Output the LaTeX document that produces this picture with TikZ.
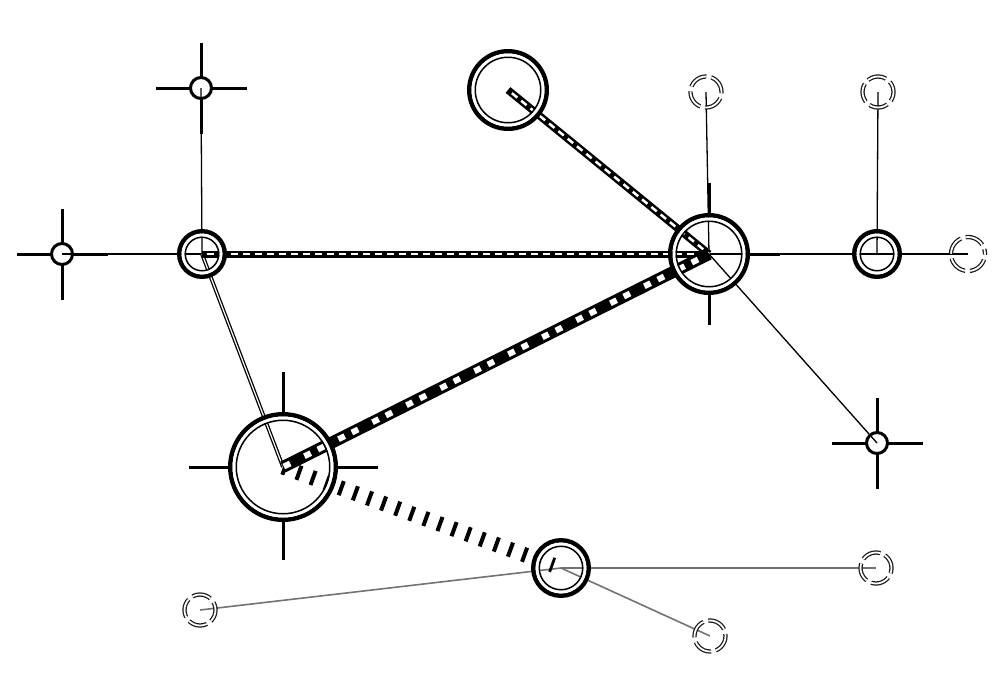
\documentclass[tikz,border=0pt]{standalone}
\usetikzlibrary{calc}
\pgfdeclarelayer{bg}
\pgfsetlayers{bg,main}
\tikzset{
  every node/.style={inner sep=0pt, outer sep=0pt},
  smallnode/.style={circle, draw=black, line width=3pt, minimum size=21pt},
  bignode/.style={circle, draw=none},
  ghostnode/.style={circle, minimum size=31pt, draw=black!90, line width=1.25pt,
    double=white, double distance=1.8pt, dash pattern=on 19pt off 5pt},
  arm/.style={line width=3pt, line cap=butt},
  thinedge/.style={line width=1.3pt},
  greyedge/.style={draw=black!55, line width=1.6pt},
  twinedge/.style={line width=1.3pt, double=white, double distance=1.2pt},
  railedge/.style={line width=7pt,
    postaction={draw=white, line width=2.5pt, dash pattern=on 7pt off 5pt, dash phase=7pt}},
  bigrail/.style={line width=12pt,
    postaction={draw=white, line width=6pt, dash pattern=on 7pt off 8pt on 7pt off 16pt, dash phase=14pt}},
  baredge/.style={line width=15pt, dash pattern=on 4pt off 11pt},
}
\newcommand\dring[2]{%
  \draw[line width=4.5pt] (#1.center) circle[radius=#2pt-2.25pt];
  \draw[white, line width=3pt] (#1.center) circle[radius=#2pt-6pt];
  \draw[line width=1.5pt] (#1.center) circle[radius=#2pt-8.25pt];}
\begin{document}
\begin{tikzpicture}[x=1pt,y=-1pt]
\useasboundingbox (0,0) rectangle (1008,694);
% nodes
\node[smallnode] (A) at (201,88) {};
\node[smallnode] (B) at (62,254) {};
\node[bignode, minimum size=50pt] (C) at (202,254) {};
\node[bignode, minimum size=82pt] (D) at (508,90) {};
\node[bignode, minimum size=82pt] (E) at (709,254) {};
\node[ghostnode] (F) at (706,92) {};
\node[ghostnode, dash phase=8pt] (G) at (878,92) {};
\node[bignode, minimum size=50pt] (H) at (877,254) {};
\node[ghostnode, minimum size=34pt, dash phase=14pt] (I) at (968,254) {};
\node[smallnode] (J) at (877,443) {};
\node[bignode, minimum size=110pt] (K) at (283,467) {};
\node[bignode, minimum size=60pt] (L) at (561,568) {};
\node[ghostnode, dash phase=4pt] (M) at (876,568) {};
\node[ghostnode, dash phase=11pt] (N) at (200,610) {};
\node[ghostnode, dash phase=17pt] (O) at (710,636) {};
\begin{pgfonlayer}{bg}
% crosshair arms
\foreach \n in {A,B,J}{
  \draw[arm] (\n.north) -- ++(0,-35);
  \draw[arm] (\n.south) -- ++(0,35);
  \draw[arm] (\n.west) -- ++(-35,0);
  \draw[arm] (\n.east) -- ++(35,0);
}
\draw[arm] (K.north) -- ++(0,-40);
\draw[arm] (K.south) -- ++(0,38);
\draw[arm] (K.west) -- ++(-39,0);
\draw[arm] (K.east) -- ++(40,0);
\draw[arm] (E.north) -- ++(0,-30);
\draw[arm] (E.south) -- ++(0,30);
\draw[arm] (E.east) -- ++(30,0);
% edges
\draw[thinedge] (A.center) -- (C.center);
\draw[thinedge] (B.center) -- (C.center);
\draw[twinedge] (C.center) -- (K.center);
\draw[thinedge] (E.center) -- (F.center);
\draw[line width=2.4pt] (E.center) -- (H.center);
\draw[thinedge] (H.center) -- (G.center);
\draw[thinedge] (H.center) -- (I.center);
\draw[thinedge] (E.center) -- (J.center);
\draw[greyedge] (L.center) -- (M.center);
\draw[greyedge] (L.center) -- (N.center);
\draw[greyedge] (L.center) -- (O.center);
\draw[baredge, shorten >=8pt] (K.center) -- (L.center);
\draw[railedge] (C.center) -- (E.center);
\draw[railedge, line width=7.5pt] (D.center) -- (E.center);
\draw[bigrail] (K.center) -- (E.center);
\end{pgfonlayer}
% double rings
\dring{C}{25}
\dring{D}{41}
\dring{E}{41}
\dring{H}{25}
\dring{K}{55}
\dring{L}{30}
\end{tikzpicture}
\end{document}
